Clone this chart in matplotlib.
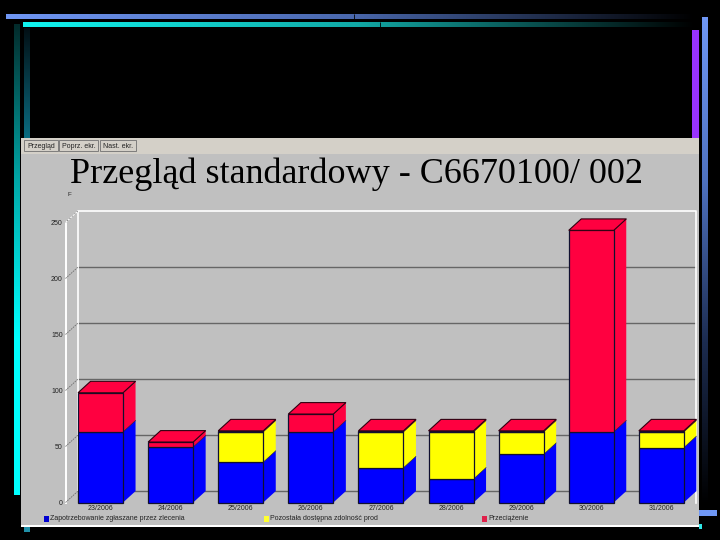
#!/usr/bin/env python3
"""Slide screenshot: capacity overview stacked 3D-look bars on a black slide."""

import matplotlib
matplotlib.use("Agg")
import matplotlib.pyplot as plt
import numpy as np
from matplotlib.colors import LinearSegmentedColormap
from matplotlib.patches import Polygon, Rectangle

TITLE = "Przegląd standardowy - C6670100/ 002"
BUTTONS = ["Przegląd", "Poprz. ekr.", "Nast. ekr."]
WEEKS = ["23/2006", "24/2006", "25/2006", "26/2006", "27/2006",
         "28/2006", "29/2006", "30/2006", "31/2006"]
LEGEND = ["Zapotrzebowanie zgłaszane przez zlecenia",
          "Pozostała dostępna zdolność prod",
          "Przeciążenie"]
Y_TICKS = [0, 50, 100, 150, 200, 250]

blue_vals = [63, 49.5, 36, 63, 31, 21, 43, 63, 49]
yellow_vals = [0, 0, 27, 0, 32, 42, 20, 0, 14]
red_vals = [35, 4.5, 1, 16, 1, 1, 1, 180, 1]

BLUE = "#0000ff"
YELLOW = "#ffff00"
RED = "#ff0040"
GRAY = "#c0c0c0"
SANS = "Liberation Sans"
SERIF = "Liberation Serif"


def grad(ax, x0, x1, y0, y1, colors, horizontal=True):
    cmap = LinearSegmentedColormap.from_list("g", colors)
    ramp = np.linspace(0, 1, 256)
    ramp = ramp[None, :] if horizontal else ramp[:, None]
    ax.imshow(ramp, cmap=cmap, extent=(x0, x1, y1, y0), aspect="auto",
              interpolation="bilinear", origin="upper", vmin=0, vmax=1)


fig = plt.figure(figsize=(7.2, 5.4), dpi=100, facecolor="black")

# slide background, in pixel coordinates
bg = fig.add_axes([0, 0, 1, 1], zorder=0)
bg.set_facecolor("black")
grad(bg, 6, 695, 14, 19, ["#7097f5", "#4a68ad", "#000000"])
grad(bg, 23, 695, 22, 27, ["#10f5f0", "#12a8a5", "#000000"])
grad(bg, 14, 20, 24, 495, ["#032b2b", "#00a8a8", "#00ffff", "#00ffff"], horizontal=False)
grad(bg, 24, 30, 28, 138, ["#020f14", "#0a6b80"], horizontal=False)
grad(bg, 702, 708, 17, 505, ["#6f97f5", "#4f72c0", "#1c2c50", "#000000"], horizontal=False)
bg.add_patch(Rectangle((692, 30), 7, 108, color="#9933ff", lw=0))
bg.add_patch(Rectangle((699, 510), 18, 6, color="#6f97f5", lw=0))
bg.add_patch(Rectangle((699, 524), 3, 5, color="#30e8e8", lw=0))
bg.add_patch(Rectangle((24, 526), 6, 6, color="#2090a8", lw=0))
bg.vlines([354], 14, 19, color="black", lw=0.6)
bg.vlines([380], 22, 27, color="black", lw=0.6)

# screenshot panel
bg.add_patch(Rectangle((21, 138), 678, 388, color=GRAY, lw=0))
bg.add_patch(Rectangle((21, 138), 678, 16, color="#d4d0c8", lw=0))
bg.add_patch(Rectangle((21, 525), 678, 1.6, color="white", lw=0))
for (x0, x1), label in zip([(24, 58), (59, 98), (100, 136)], BUTTONS):
    bg.add_patch(Rectangle((x0, 140), x1 - x0, 11, fc="#d4d0c8", ec="#707070", lw=0.6))
    bg.text((x0 + x1) / 2, 146, label, fontsize=5, family=SANS, ha="center",
            va="center", color="#222222")
bg.text(70, 183, TITLE, fontsize=26, family=SERIF, color="black", ha="left",
        va="baseline")
bg.text(69, 195, "F", fontsize=4.5, family=SANS, color="#222222", ha="center", va="center")

# legend
for x, label, col in zip([44, 264, 482], LEGEND, ["#0000d0", "#ffff30", "#e0204a"]):
    bg.add_patch(Rectangle((x, 516), 5, 6, color=col, lw=0))
    bg.text(x + 6, 519, label, fontsize=5, family=SANS, color="#222222",
            ha="left", va="center")
bg.set_xlim(0, 720)
bg.set_ylim(540, 0)
bg.axis("off")

# chart: the axes box is the front plane of the 3D look
left, right, top, bottom = 65.5, 696.4, 222.5, 502.5
ax = fig.add_axes([left / 720, 1 - bottom / 540, (right - left) / 720, (bottom - top) / 540],
                  zorder=1)
ax.patch.set_alpha(0)
ax.set_xlim(-0.5, 8.5)
ax.set_ylim(0, 250)
for s in ax.spines.values():
    s.set_visible(False)

DX = 12.5 / 70.1
DY = 10.2
W = 0.642
x_back0, x_back1 = -0.5 + DX, 8.5

# back wall
ax.hlines([t + DY for t in Y_TICKS[:-1]], x_back0, x_back1, color="#666666", lw=1.0,
          clip_on=False, zorder=1)
ax.plot([x_back0, x_back0, x_back1, x_back1], [DY, 250 + DY, 250 + DY, 0],
        color="white", lw=1.2, clip_on=False, zorder=1)
ax.plot([-0.5, -0.5], [0, 250], color="white", lw=1.4, clip_on=False, zorder=1)
for t in Y_TICKS:
    ax.plot([-0.5, x_back0], [t, t + DY], color="#707070", lw=0.6, ls=(0, (2, 1)),
            clip_on=False, zorder=1)
ax.plot([-0.5, x_back0], [250, 250 + DY], color="white", lw=0.8, ls=(0, (2, 1)),
        clip_on=False, zorder=1)

# bars
for i, vals in enumerate(zip(blue_vals, yellow_vals, red_vals)):
    x0, x1 = i - W / 2, i + W / 2
    base = 0
    for v, col in zip(vals, [BLUE, YELLOW, RED]):
        if v == 0:
            continue
        ax.add_patch(Polygon([(x1, base), (x1 + DX, base + DY), (x1 + DX, base + v + DY),
                              (x1, base + v)], fc=col, ec="none", clip_on=False, zorder=2))
        ax.bar(i, v, W, bottom=base, color=col, edgecolor="#101030", linewidth=0.9,
               clip_on=False, zorder=3)
        ax.plot([x1, x1 + DX], [base + v, base + v + DY], color="#101030", lw=0.4,
                clip_on=False, zorder=3)
        base += v
    ax.add_patch(Polygon([(x0, base), (x1, base), (x1 + DX, base + DY), (x0 + DX, base + DY)],
                         fc=RED, ec="#300010", lw=0.8, clip_on=False, zorder=4))

ax.set_xticks(range(len(WEEKS)), WEEKS, fontsize=5, family=SANS, color="#222222")
ax.set_yticks(Y_TICKS, [str(t) for t in Y_TICKS], fontsize=5, family=SANS, color="#222222")
ax.tick_params(length=0, pad=2)

fig.savefig("out.png", dpi=100, facecolor="black")
